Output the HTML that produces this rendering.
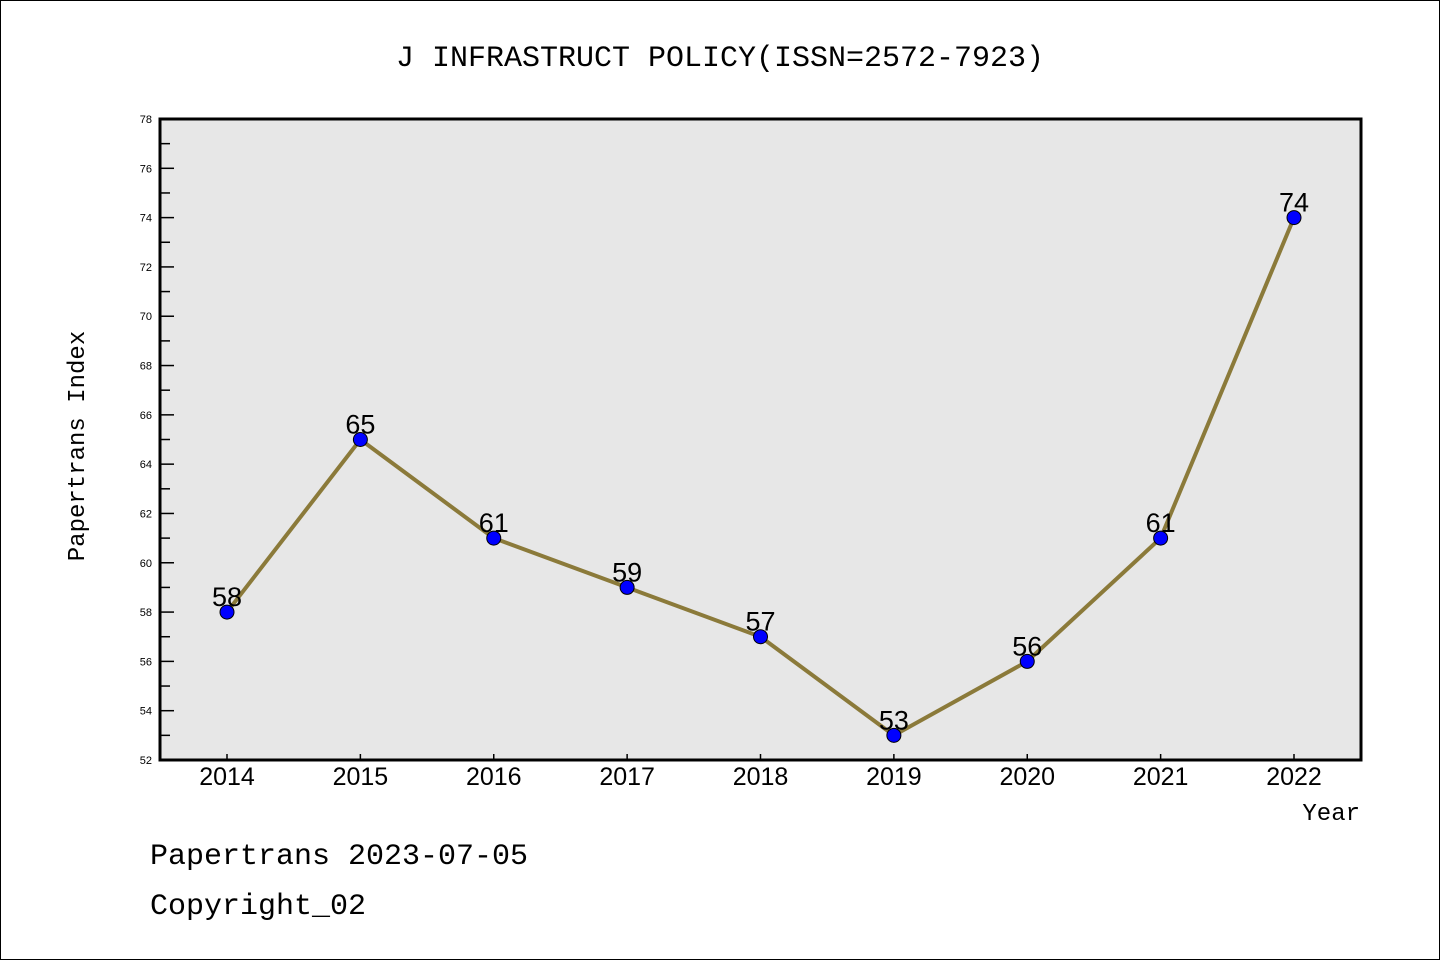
<!DOCTYPE html>
<html><head><meta charset="utf-8"><style>
body{margin:0;background:#fff}
svg text{font-family:"WenQuanYi Zen Hei","Liberation Mono",monospace}
svg text.s{font-family:"Liberation Sans",sans-serif}
</style></head><body>
<svg width="1440" height="960" xmlns="http://www.w3.org/2000/svg">
<rect x="0.5" y="0.5" width="1439" height="959" fill="#fff" stroke="#000"/>
<text x="720" y="66" font-size="30" text-anchor="middle">J INFRASTRUCT POLICY(ISSN=2572-7923)</text>
<rect x="160" y="119" width="1201" height="641" fill="#e7e7e7"/>
<g id="axes"></g>
<g id="marks"></g>
<rect x="160" y="119" width="1201" height="641" fill="none" stroke="#000" stroke-width="3"/>
<text x="84" y="446" font-size="24" text-anchor="middle" transform="rotate(-90 84 446)">Papertrans Index</text>
<text x="1360" y="820" font-size="24" text-anchor="end">Year</text>
<text x="150" y="864" font-size="30">Papertrans 2023-07-05</text>
<text x="150" y="914" font-size="30">Copyright_02</text>
</svg>
<script>
const years=[2014,2015,2016,2017,2018,2019,2020,2021,2022];
const values=[58,65,61,59,57,53,56,61,74];
const yTicks=[52,54,56,58,60,62,64,66,68,70,72,74,76,78];
const NS="http://www.w3.org/2000/svg";
const x=y=>227+(y-2014)*(1294-227)/8;
const yy=v=>760-(v-52)*641/26;
function mk(tag,attrs,parent,text){const e=document.createElementNS(NS,tag);for(const k in attrs)e.setAttribute(k,attrs[k]);if(text!==undefined)e.textContent=text;parent.appendChild(e);return e;}
const axes=document.getElementById('axes'),marks=document.getElementById('marks');
yTicks.forEach((t,i)=>{
 const l=mk('line',{x1:160,x2:174,y1:yy(t),y2:yy(t),stroke:'#000','stroke-width':1.5},axes);
 
 
 const tx=mk('text',{x:152,y:yy(t)+4,'font-size':11,'text-anchor':'end',class:'s'},axes,t);
 
 
 if(i<yTicks.length-1){const m=mk('line',{x1:160,x2:170,y1:yy(t+1),y2:yy(t+1),stroke:'#000','stroke-width':1.5},axes);
 
 }
});
years.forEach(yr=>{
 const l=mk('line',{x1:x(yr),x2:x(yr),y1:760,y2:754,stroke:'#000','stroke-width':1.5},axes);
 
 
 const t=mk('text',{x:x(yr),y:785,'font-size':25,'text-anchor':'middle',class:'s'},axes,yr);
 
 
});
const pl=mk('polyline',{points:years.map((yr,i)=>x(yr)+','+yy(values[i])).join(' '),fill:'none',stroke:'#8b7a3a','stroke-width':4},marks);


years.forEach((yr,i)=>{
 const c=mk('circle',{cx:x(yr),cy:yy(values[i]),r:7,fill:'#0000ff',stroke:'#000','stroke-width':1},marks);
 
 
 const t=mk('text',{x:x(yr),y:yy(values[i])-6,'font-size':27,'text-anchor':'middle',class:'s'},marks,values[i]);
 
 
});
</script>
</body></html>
